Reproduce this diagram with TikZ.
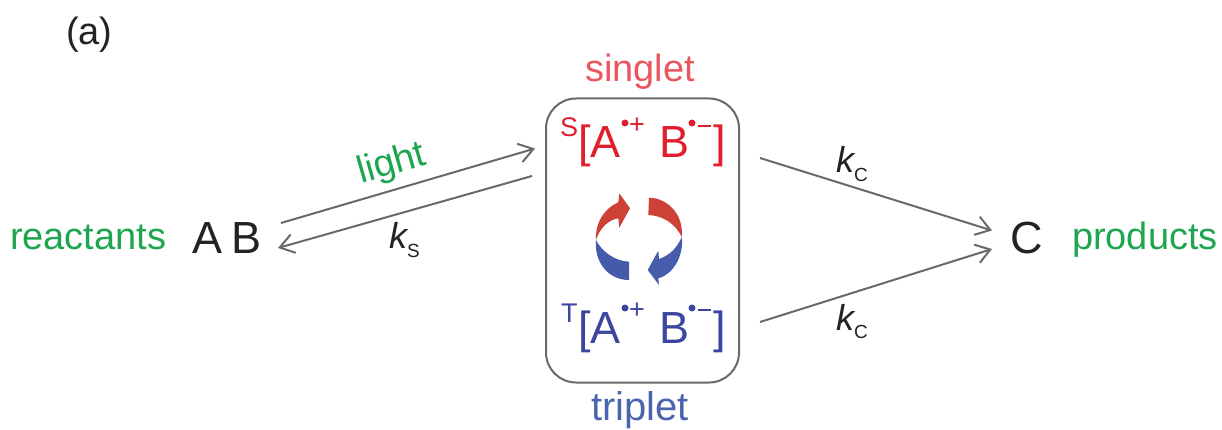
\documentclass[tikz,border=0pt]{standalone}
\usepackage{fontspec}
\setmainfont{Liberation Sans}
\usetikzlibrary{arrows.meta}
\definecolor{tgreen}{RGB}{30,165,80}
\definecolor{tdark}{RGB}{35,35,35}
\definecolor{tgrey}{RGB}{105,105,105}
\definecolor{tred}{RGB}{225,30,45}
\definecolor{tpink}{RGB}{235,85,95}
\definecolor{tnavy}{RGB}{60,70,160}
\definecolor{tblue}{RGB}{75,100,175}
\definecolor{arrred}{RGB}{205,65,55}
\definecolor{arrblue}{RGB}{70,90,170}
\tikzset{
  txt/.style={inner sep=0pt,outer sep=0pt,anchor=base west},
  conn/.style={draw=tgrey,line width=2pt,-{Straight Barb[length=14pt,width=19pt,line width=2pt]}},
  big/.style={txt,font=\fontsize{45}{45}\selectfont},
  mid/.style={txt,font=\fontsize{38}{38}\selectfont},
  kk/.style={txt,font=\fontsize{36}{36}\selectfont\itshape,text=tdark},
  sb/.style={txt,font=\fontsize{19}{19}\selectfont},
  sup/.style={txt,font=\fontsize{27}{27}\selectfont},
  dotc/.style={circle,inner sep=0pt,minimum size=7pt}
}
\begin{document}
\begin{tikzpicture}[x=1pt,y=-1pt]
\useasboundingbox (0,0) rectangle (1222,430);
\node[mid,text=tdark] (lab) at (66,45) {(a)};
\node[mid,text=tgreen] (re) at (10,250) {reactants};
\node[mid,text=tgreen] (pr) at (1072,250) {products};
\node[big,text=tdark] (ab) at (192,254) {A\kern9pt B};
\node[big,text=tdark] (cc) at (1010,254) {C};
\node[mid,text=tpink] (si) at (585,82) {singlet};
\node[txt,font=\fontsize{40}{40}\selectfont,text=tblue] (tr) at (591,420) {triplet};
\node[txt,font=\fontsize{38}{38}\selectfont,text=tgreen,rotate=16] (li) at (361,183.5) {light};
% box
\node[draw=tgrey,line width=2pt,rounded corners=30pt,minimum width=193pt,minimum height=284pt,inner sep=0pt] (box) at (642.5,240.5) {};
% singlet
\node[sup,text=tred] (ss) at (560,137) {S};
\node[big,text=tred] (s1) at (578,158) {[A};
\node[big,text=tred] (s2) at (659,158) {B};
\node[big,text=tred] (s3) at (713,158) {]};
\node[dotc,fill=tred] (s4) at (625,123) {};
\node[sup,text=tred] (s5) at (629,134) {+};
\node[dotc,fill=tred] (s6) at (692,123) {};
\draw[tred,line width=2pt] (698,126) -- (711,126);
% triplet
\node[sup,text=tnavy] (ts) at (561,322) {T};
\node[big,text=tnavy] (t1) at (578,343) {[A};
\node[big,text=tnavy] (t2) at (659,343) {B};
\node[big,text=tnavy] (t3) at (713,343) {]};
\node[dotc,fill=tnavy] (t4) at (625,308) {};
\node[sup,text=tnavy] (t5) at (629,318) {+};
\node[dotc,fill=tnavy] (t6) at (692,308) {};
\draw[tnavy,line width=2pt] (698,310) -- (711,310);
% cycle arrows
\fill[arrred] (596,240) .. controls (595,222) and (605,208) .. (618.3,202.3) -- (619.3,193.3) -- (630,208.3) -- (619.3,227.7) -- (618.3,218.3) .. controls (608,220) and (600,228) .. (596,240) -- cycle;
\fill[arrred] (649,197.7) .. controls (668,198) and (684,215) .. (681.7,237) .. controls (676,225) and (665,216) .. (648.3,215) -- cycle;
\fill[arrblue] (596,240) .. controls (602,252) and (615,261) .. (629,261.7) -- (629,280) .. controls (608,280) and (594,262) .. (596,240) -- cycle;
\fill[arrblue!85!tblue] (681.7,237) .. controls (684,255) and (674,274) .. (658.3,278.3) -- (659,285) -- (647.7,270) -- (658.3,250.7) -- (659,259) .. controls (670,255) and (677,248) .. (681.7,237) -- cycle;
% free ends
\coordinate (a1) at (281,223);
\coordinate (a2) at (535,148.5);
\coordinate (b1) at (532,176);
\coordinate (b2) at (278,248);
\coordinate (c1) at (760,158);
\coordinate (c2) at (992,230.5);
\coordinate (d1) at (760,322);
\coordinate (d2) at (992,249);
\draw[conn] (a1) -- (a2);
\draw[conn] (b1) -- (b2);
\draw[conn] (c1) -- (c2);
\draw[conn] (d1) -- (d2);
% rate labels
\node[kk] (k1) at (389,248) {k};
\node[sb,text=tdark] (k1s) at (407,257) {S};
\node[kk] (k2) at (836,173) {k};
\node[sb,text=tdark] (k2s) at (854,182) {C};
\node[kk] (k3) at (836,330) {k};
\node[sb,text=tdark] (k3s) at (854,338) {C};
\end{tikzpicture}
\end{document}
